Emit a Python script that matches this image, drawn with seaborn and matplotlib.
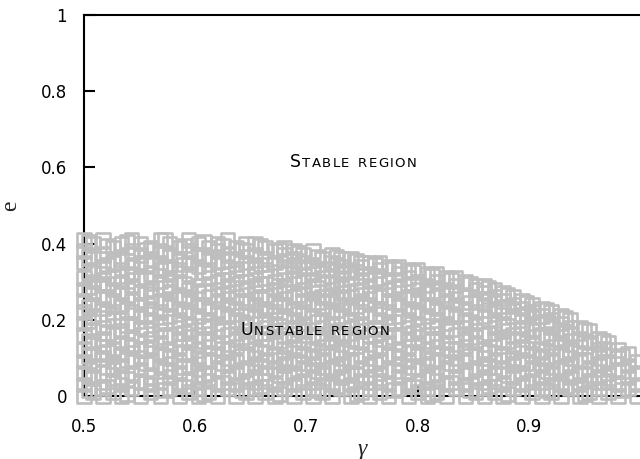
import pandas as pd
import numpy as np
import seaborn as sns
import matplotlib.pyplot as plt
from matplotlib.offsetbox import TextArea, HPacker, AnnotationBbox


##############
# data: one column of squares per gamma value
##############

gamma_cols = [0.500, 0.508, 0.517, 0.526, 0.534, 0.543, 0.551, 0.560, 0.569, 0.577,
              0.586, 0.594, 0.603, 0.612, 0.620, 0.629, 0.637, 0.646, 0.654, 0.663,
              0.672, 0.680, 0.689, 0.697, 0.706, 0.714, 0.723, 0.731, 0.740, 0.749,
              0.757, 0.766, 0.774, 0.783, 0.792, 0.800, 0.809, 0.817, 0.826, 0.834,
              0.843, 0.852, 0.860, 0.869, 0.877, 0.886, 0.894, 0.903, 0.912, 0.920,
              0.929, 0.937, 0.946, 0.954, 0.963, 0.971, 0.980, 0.989, 0.997]

e_cols = [
    [0.00, 0.03, 0.06, 0.09, 0.12, 0.16, 0.19, 0.22, 0.25, 0.28, 0.31, 0.35, 0.38, 0.41],
    [0.01, 0.05, 0.08, 0.11, 0.14, 0.17, 0.21, 0.24, 0.27, 0.30, 0.33, 0.36, 0.40],
    [0.00, 0.02, 0.06, 0.10, 0.13, 0.15, 0.18, 0.23, 0.26, 0.29, 0.32, 0.34, 0.37, 0.41],
    [0.01, 0.04, 0.07, 0.09, 0.12, 0.16, 0.20, 0.22, 0.25, 0.28, 0.31, 0.35, 0.39],
    [0.00, 0.03, 0.05, 0.08, 0.11, 0.14, 0.17, 0.20, 0.24, 0.27, 0.30, 0.33, 0.36, 0.40],
    [0.02, 0.06, 0.09, 0.13, 0.15, 0.19, 0.22, 0.25, 0.29, 0.32, 0.34, 0.38, 0.41],
    [0.00, 0.04, 0.07, 0.10, 0.12, 0.16, 0.18, 0.21, 0.24, 0.27, 0.31, 0.35, 0.37, 0.40],
    [0.01, 0.03, 0.05, 0.09, 0.13, 0.15, 0.20, 0.23, 0.26, 0.28, 0.32, 0.36, 0.39],
    [0.00, 0.04, 0.08, 0.11, 0.14, 0.17, 0.19, 0.22, 0.25, 0.30, 0.33, 0.35, 0.38, 0.41],
    [0.02, 0.05, 0.07, 0.10, 0.12, 0.16, 0.21, 0.24, 0.27, 0.29, 0.31, 0.34, 0.37, 0.40],
    [0.00, 0.03, 0.06, 0.09, 0.13, 0.15, 0.18, 0.20, 0.23, 0.26, 0.30, 0.33, 0.36, 0.39],
    [0.01, 0.04, 0.08, 0.11, 0.14, 0.17, 0.19, 0.22, 0.25, 0.28, 0.32, 0.35, 0.38, 0.41],
    [0.00, 0.02, 0.05, 0.07, 0.10, 0.12, 0.16, 0.21, 0.24, 0.27, 0.29, 0.34, 0.37, 0.40],
    [0.01, 0.04, 0.06, 0.09, 0.13, 0.15, 0.18, 0.20, 0.23, 0.26, 0.31, 0.33, 0.36, 0.39],
    [0.00, 0.03, 0.07, 0.11, 0.14, 0.17, 0.19, 0.22, 0.25, 0.28, 0.30, 0.35, 0.38, 0.40],
    [0.02, 0.05, 0.08, 0.10, 0.12, 0.16, 0.21, 0.24, 0.27, 0.29, 0.32, 0.34, 0.37, 0.41],
    [0.00, 0.03, 0.06, 0.09, 0.13, 0.15, 0.18, 0.20, 0.23, 0.26, 0.31, 0.33, 0.36, 0.39],
    [0.01, 0.04, 0.07, 0.11, 0.14, 0.17, 0.19, 0.22, 0.25, 0.28, 0.30, 0.35, 0.38, 0.40],
    [0.00, 0.02, 0.05, 0.08, 0.10, 0.12, 0.16, 0.21, 0.24, 0.27, 0.29, 0.32, 0.34, 0.37, 0.40],
    [0.01, 0.04, 0.06, 0.09, 0.13, 0.15, 0.18, 0.20, 0.23, 0.26, 0.31, 0.33, 0.36, 0.39],
    [0.00, 0.03, 0.07, 0.11, 0.14, 0.17, 0.19, 0.22, 0.25, 0.28, 0.30, 0.35, 0.38],
    [0.02, 0.05, 0.08, 0.10, 0.12, 0.16, 0.21, 0.24, 0.27, 0.29, 0.32, 0.34, 0.37, 0.39],
    [0.00, 0.03, 0.06, 0.09, 0.13, 0.15, 0.18, 0.20, 0.23, 0.26, 0.31, 0.33, 0.36, 0.38],
    [0.01, 0.04, 0.07, 0.11, 0.14, 0.17, 0.19, 0.22, 0.25, 0.28, 0.30, 0.35, 0.37],
    [0.00, 0.02, 0.05, 0.08, 0.10, 0.12, 0.16, 0.21, 0.24, 0.27, 0.29, 0.32, 0.34, 0.38],
    [0.01, 0.04, 0.06, 0.09, 0.13, 0.15, 0.18, 0.20, 0.23, 0.26, 0.31, 0.33, 0.36],
    [0.00, 0.03, 0.07, 0.11, 0.14, 0.17, 0.19, 0.22, 0.25, 0.28, 0.30, 0.35, 0.37],
    [0.02, 0.05, 0.08, 0.10, 0.12, 0.16, 0.21, 0.24, 0.27, 0.29, 0.32, 0.34, 0.36],
    [0.00, 0.03, 0.06, 0.09, 0.13, 0.15, 0.18, 0.20, 0.23, 0.26, 0.31, 0.33, 0.36],
    [0.01, 0.04, 0.07, 0.11, 0.14, 0.17, 0.19, 0.22, 0.25, 0.28, 0.30, 0.34, 0.35],
    [0.00, 0.02, 0.05, 0.08, 0.10, 0.12, 0.16, 0.21, 0.24, 0.27, 0.29, 0.32, 0.35],
    [0.01, 0.04, 0.06, 0.09, 0.13, 0.15, 0.18, 0.20, 0.23, 0.26, 0.31, 0.33, 0.35],
    [0.00, 0.03, 0.07, 0.11, 0.14, 0.17, 0.19, 0.22, 0.25, 0.28, 0.30, 0.34],
    [0.02, 0.05, 0.08, 0.10, 0.12, 0.16, 0.21, 0.24, 0.27, 0.29, 0.32, 0.34],
    [0.00, 0.03, 0.06, 0.09, 0.13, 0.15, 0.18, 0.20, 0.23, 0.26, 0.31, 0.33],
    [0.01, 0.04, 0.07, 0.11, 0.14, 0.17, 0.19, 0.22, 0.25, 0.28, 0.30, 0.33],
    [0.00, 0.02, 0.05, 0.08, 0.10, 0.12, 0.16, 0.21, 0.24, 0.27, 0.29, 0.32],
    [0.01, 0.04, 0.06, 0.09, 0.13, 0.15, 0.18, 0.20, 0.23, 0.26, 0.30, 0.32],
    [0.00, 0.03, 0.07, 0.11, 0.14, 0.17, 0.19, 0.22, 0.25, 0.28, 0.31],
    [0.02, 0.05, 0.08, 0.10, 0.12, 0.16, 0.21, 0.24, 0.27, 0.29, 0.31],
    [0.00, 0.03, 0.06, 0.09, 0.13, 0.15, 0.18, 0.20, 0.23, 0.26, 0.30],
    [0.01, 0.04, 0.07, 0.11, 0.14, 0.17, 0.19, 0.22, 0.25, 0.28, 0.29],
    [0.00, 0.02, 0.05, 0.08, 0.10, 0.12, 0.16, 0.21, 0.24, 0.27, 0.29],
    [0.01, 0.04, 0.06, 0.09, 0.13, 0.15, 0.18, 0.20, 0.23, 0.26, 0.28],
    [0.00, 0.03, 0.07, 0.11, 0.14, 0.17, 0.19, 0.22, 0.25, 0.27],
    [0.02, 0.05, 0.08, 0.10, 0.12, 0.16, 0.21, 0.24, 0.26],
    [0.00, 0.03, 0.06, 0.09, 0.13, 0.15, 0.18, 0.20, 0.23, 0.25],
    [0.01, 0.04, 0.07, 0.11, 0.14, 0.17, 0.19, 0.22, 0.24],
    [0.00, 0.02, 0.05, 0.08, 0.10, 0.12, 0.16, 0.21, 0.23],
    [0.01, 0.04, 0.06, 0.09, 0.13, 0.15, 0.18, 0.20, 0.22],
    [0.00, 0.03, 0.07, 0.11, 0.14, 0.17, 0.19, 0.21],
    [0.02, 0.05, 0.08, 0.10, 0.12, 0.16, 0.18, 0.20],
    [0.00, 0.03, 0.06, 0.09, 0.13, 0.15, 0.18],
    [0.01, 0.04, 0.07, 0.11, 0.14, 0.17],
    [0.00, 0.02, 0.05, 0.08, 0.10, 0.12, 0.15],
    [0.01, 0.04, 0.06, 0.09, 0.12, 0.14],
    [0.00, 0.03, 0.07, 0.10, 0.12],
    [0.02, 0.05, 0.08, 0.11],
    [0.00, 0.03, 0.06, 0.09],
]

# second, sparser layer of squares lying between the columns above
gamma_cols_b = [0.504, 0.521, 0.539, 0.556, 0.573, 0.590, 0.608, 0.625, 0.642, 0.659,
                0.676, 0.693, 0.710, 0.727, 0.745, 0.762, 0.779, 0.796, 0.813, 0.830,
                0.847, 0.864, 0.881, 0.898, 0.916, 0.933, 0.950, 0.967, 0.984]

e_cols_b = [
    [0.015, 0.055, 0.105, 0.145, 0.195, 0.235, 0.285, 0.325, 0.365, 0.405],
    [0.025, 0.075, 0.115, 0.165, 0.205, 0.255, 0.295, 0.345, 0.395],
    [0.005, 0.045, 0.095, 0.135, 0.185, 0.225, 0.265, 0.315, 0.355, 0.405],
    [0.035, 0.085, 0.125, 0.175, 0.215, 0.275, 0.305, 0.345, 0.385],
    [0.015, 0.065, 0.105, 0.155, 0.195, 0.245, 0.285, 0.335, 0.375, 0.410],
    [0.025, 0.075, 0.115, 0.165, 0.225, 0.255, 0.295, 0.345, 0.395],
    [0.005, 0.055, 0.095, 0.145, 0.185, 0.235, 0.275, 0.325, 0.365, 0.405],
    [0.035, 0.085, 0.125, 0.175, 0.215, 0.265, 0.305, 0.355, 0.395],
    [0.015, 0.065, 0.105, 0.155, 0.195, 0.245, 0.285, 0.335, 0.385],
    [0.025, 0.075, 0.115, 0.165, 0.225, 0.255, 0.295, 0.345, 0.395],
    [0.005, 0.055, 0.095, 0.145, 0.185, 0.235, 0.275, 0.325, 0.385],
    [0.035, 0.085, 0.125, 0.175, 0.215, 0.265, 0.305, 0.355, 0.375],
    [0.015, 0.065, 0.105, 0.155, 0.195, 0.245, 0.285, 0.335, 0.365],
    [0.025, 0.075, 0.115, 0.165, 0.225, 0.255, 0.295, 0.345, 0.365],
    [0.005, 0.055, 0.095, 0.145, 0.185, 0.235, 0.275, 0.325, 0.355],
    [0.035, 0.085, 0.125, 0.175, 0.215, 0.265, 0.305, 0.345],
    [0.015, 0.065, 0.105, 0.155, 0.195, 0.245, 0.285, 0.335],
    [0.025, 0.075, 0.115, 0.165, 0.225, 0.255, 0.295, 0.325],
    [0.005, 0.055, 0.095, 0.145, 0.185, 0.235, 0.275, 0.315],
    [0.035, 0.085, 0.125, 0.175, 0.215, 0.265, 0.305],
    [0.015, 0.065, 0.105, 0.155, 0.195, 0.245, 0.295],
    [0.025, 0.075, 0.115, 0.165, 0.225, 0.255, 0.285],
    [0.005, 0.055, 0.095, 0.145, 0.185, 0.235, 0.265],
    [0.035, 0.085, 0.125, 0.175, 0.215, 0.245],
    [0.015, 0.065, 0.105, 0.155, 0.195, 0.225],
    [0.025, 0.075, 0.115, 0.165, 0.205],
    [0.005, 0.055, 0.095, 0.145, 0.175],
    [0.035, 0.085, 0.125, 0.145],
    [0.015, 0.065, 0.105],
]

x_ticks = [0.5, 0.6, 0.7, 0.8, 0.9]
x_ticklabels = ["0.5", "0.6", "0.7", "0.8", "0.9"]
y_ticks = [0, 0.2, 0.4, 0.6, 0.8, 1.0]
y_ticklabels = ["0", "0.2", "0.4", "0.6", "0.8", "1"]


##############
# table
##############

rows = []
for g, es in zip(gamma_cols + gamma_cols_b, e_cols + e_cols_b):
    for e in es:
        rows.append((g, e))
df = pd.DataFrame(rows, columns=["gamma", "e"])


##############
# figure
##############

sns.set_style("ticks")
plt.rcParams['font.family'] = ['DejaVu Sans']

fig = plt.figure(figsize=(6.4, 4.59), dpi=100)
ax = fig.add_axes([0.131, 0.1373, 0.869, 0.83])

sns.scatterplot(data=df, x="gamma", y="e", ax=ax,
                marker="s", s=95, facecolor="none",
                edgecolor="#bebebe", linewidth=1.9,
                clip_on=False, zorder=3, legend=False)

ax.set_xlim(0.5, 1.0)
ax.set_ylim(0, 1)
ax.set_xticks(x_ticks)
ax.set_xticklabels(x_ticklabels)
ax.set_yticks(y_ticks)
ax.set_yticklabels(y_ticklabels)
ax.tick_params(direction="in", length=8, width=1.5, labelsize=12, pad=12, colors="black")
ax.tick_params(axis="x", pad=16)

for side in ["left", "top", "bottom"]:
    ax.spines[side].set_linewidth(1.5)
    ax.spines[side].set_color("black")
ax.spines["right"].set_visible(False)

ax.set_xlabel("γ", fontsize=17, family="Liberation Serif", style="italic", labelpad=2)
ax.set_ylabel("e", fontsize=17, family="Liberation Serif", rotation=90, labelpad=14)


def small_caps(text, big=12.5, small=9.5):
    # fake small caps with a bit of letter spacing
    words = []
    for i, word in enumerate(text.split(" ")):
        letters = []
        for j, ch in enumerate(word):
            size = big if (i == 0 and j == 0) else small
            letters.append(TextArea(ch.upper(), textprops=dict(size=size, color="black")))
        words.append(HPacker(children=letters, align="baseline", pad=0, sep=1.0))
    return HPacker(children=words, align="baseline", pad=0, sep=6)


for label, pos in [("Stable region", (0.742, 0.614)), ("Unstable region", (0.7075, 0.173))]:
    ab = AnnotationBbox(small_caps(label), pos, frameon=False, zorder=5,
                        box_alignment=(0.5, 0.5), pad=0)
    ax.add_artist(ab)

plt.savefig("out.png", dpi=100)
